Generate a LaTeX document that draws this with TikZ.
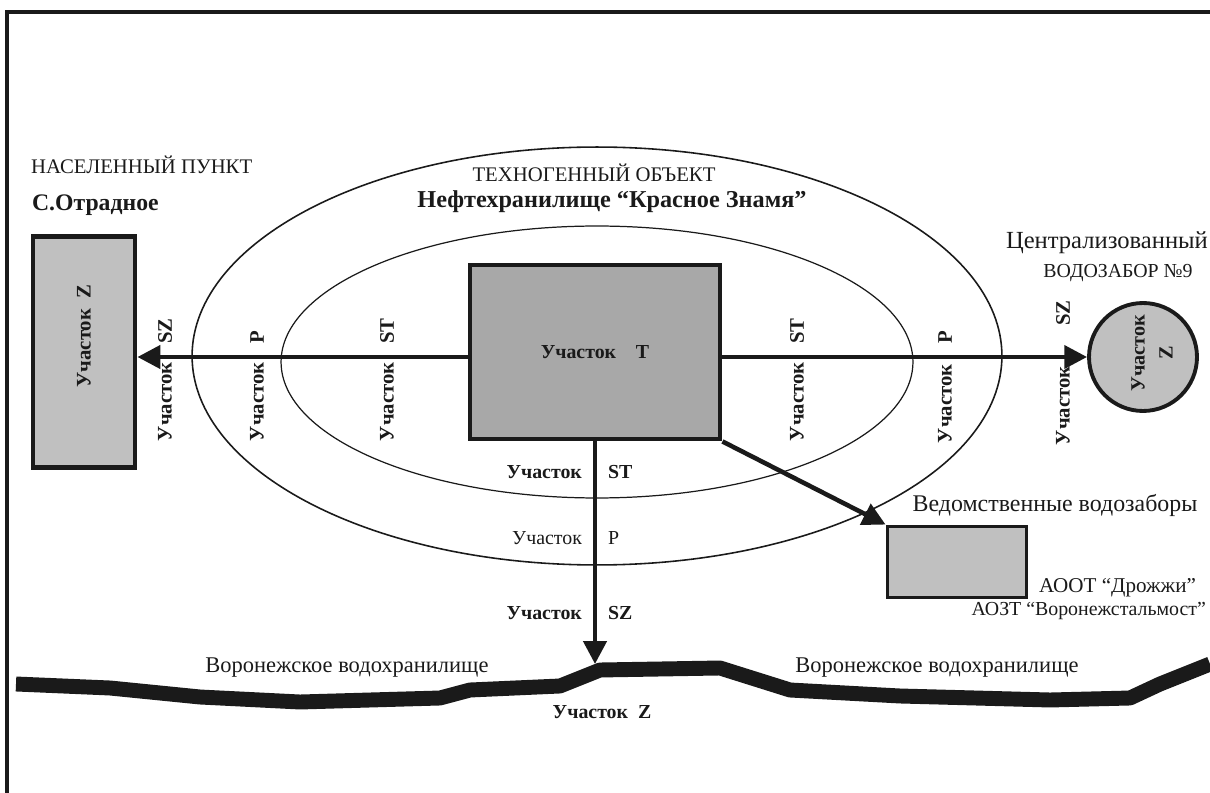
\documentclass[tikz,border=0pt]{standalone}
\usepackage{fontspec}
\setmainfont{Liberation Serif}
\usepackage{tikz}
\usetikzlibrary{arrows.meta,positioning,shapes.geometric}
\definecolor{ZoneInk}{HTML}{1A1A1A}
\definecolor{ZoneGray}{HTML}{C0C0C0}
\definecolor{ZoneDark}{HTML}{A8A8A8}
\tikzset{
  zonetext/.style={font=\fontsize{11.3}{13}\selectfont, text=ZoneInk, inner sep=1pt},
  zonebold/.style={zonetext, font=\fontsize{11.3}{13}\selectfont\bfseries},
  zonevert/.style={zonebold, font=\fontsize{11.8}{13}\selectfont\bfseries, rotate=90, inner sep=0pt},
  sitebox/.style={draw=ZoneInk, line width=2.8pt, fill=ZoneGray, inner sep=0pt},
  zonering/.style={draw=ZoneInk, ellipse, line width=0.9pt, inner sep=0pt},
  zonearrow/.style={-{Triangle[length=13pt,width=13pt]}, line width=2.6pt, draw=ZoneInk},
  riverline/.style={draw=ZoneInk, line width=8.5pt, line join=round}
}

\begin{document}
\begin{tikzpicture}[x=0.02cm, y=-0.02cm]
\useasboundingbox (0,0) rectangle (1210,793);
% frame
\draw[line width=2.3pt, ZoneInk] (7,793) -- (7,12) -- (1210,12);
% zones round the oil depot
\node[zonering, minimum width=16.2cm, minimum height=8.36cm] (outer) at (597,356) {};
\node[zonering, line width=0.7pt, minimum width=12.64cm, minimum height=5.44cm] (inner) at (597,362) {};
\node[zonetext, font=\fontsize{11.8}{13}\selectfont] (objcap) at (594,173) {ТЕХНОГЕННЫЙ ОБЪЕКТ};
\node[zonebold, font=\fontsize{13.8}{15}\selectfont\bfseries] (objname) at (612,202) {Нефтехранилище “Красное Знамя”};
\node[sitebox, fill=ZoneDark, minimum width=5cm, minimum height=3.48cm, zonebold] (T) at (595,352) {Участок\quad T};
% settlement
\node[zonetext, font=\fontsize{11.8}{13}\selectfont, anchor=west] (settlecap) at (29,165) {НАСЕЛЕННЫЙ ПУНКТ};
\node[zonebold, font=\fontsize{13.5}{15}\selectfont\bfseries, anchor=west] (settlename) at (30,205) {С.Отрадное};
\node[sitebox, minimum width=2.04cm, minimum height=4.62cm] (settle) at (84,352) {};
\node[zonevert] (settlelbl) at (84,336) {Участок\enspace Z};
% water intake
\node[zonetext, font=\fontsize{14}{16}\selectfont, anchor=east] (intakecap) at (1210,243) {Централизованный};
\node[zonetext] (intakenum) at (1118,273) {ВОДОЗАБОР №9};
\node[sitebox, circle, line width=2.2pt, minimum size=2.16cm] (intake) at (1143,357) {};
\node[zonetext, font=\fontsize{11.5}{16}\selectfont\bfseries, rotate=90, align=center] (intakelbl) at (1152,353) {Участок\\Z};
% departmental intakes
\node[zonetext, font=\fontsize{13.6}{15}\selectfont] (deptcap) at (1055,505) {Ведомственные водозаборы};
\node[sitebox, line width=2.2pt, minimum width=2.78cm, minimum height=1.42cm] (dept) at (957,562) {};
\node[zonetext, font=\fontsize{12}{14}\selectfont, anchor=east] (dept1) at (1198,588) {АООТ “Дрожжи”};
\node[zonetext, anchor=east] (dept2) at (1208,611) {АОЗТ “Воронежстальмост”};
% reservoir
\draw[riverline] (16,684) -- (110,688) -- (200,697) -- (300,702) -- (440,698) -- (470,690) -- (560,686) -- (600,670) -- (720,668) -- (790,690) -- (900,696) -- (1050,700) -- (1130,698) -- (1160,684) -- (1210,664);
\node[zonetext, font=\fontsize{12.8}{14}\selectfont] (lakeL) at (347,668) {Воронежское водохранилище};
\node[zonetext, font=\fontsize{12.8}{14}\selectfont] (lakeR) at (937,668) {Воронежское водохранилище};
\node[zonebold] (riverlbl) at (602,712) {Участок\enspace Z};
\coordinate (riverhit) at (T.south |- 0,664);
% connectors
\draw[zonearrow] (T.west |- intake) -- (settle.east |- intake);
\draw[zonearrow] (T.east |- intake) -- (intake);
\draw[zonearrow] (T.south) -- (riverhit);
\draw[zonearrow] (T.south east) -- (dept.north west);
% labels along the arrows
\node[zonevert, anchor=east] (lsz1) at (165,362) {Участок};
\node[zonevert, anchor=west] (lsz2) at (165,344) {SZ};
\node[zonevert, anchor=east] (lp1) at (257,362) {Участок};
\node[zonevert, anchor=west] (lp2) at (257,344) {P};
\node[zonevert, anchor=east] (lst1) at (387,362) {Участок};
\node[zonevert, anchor=west] (lst2) at (387,344) {ST};
\node[zonevert, anchor=east] (rst1) at (797,362) {Участок};
\node[zonevert, anchor=west] (rst2) at (797,344) {ST};
\node[zonevert, anchor=east] (rp1) at (945,364) {Участок};
\node[zonevert, anchor=west] (rp2) at (945,344) {P};
\node[zonevert, anchor=east] (rsz1) at (1063,366) {Участок};
\node[zonevert, anchor=west] (rsz2) at (1063,326) {SZ};
\node[zonebold, anchor=east] (bst1) at (584,472) {Участок};
\node[zonebold, anchor=west] (bst2) at (606,472) {ST};
\node[zonetext, anchor=east] (bp1) at (584,538) {Участок};
\node[zonetext, anchor=west] (bp2) at (606,538) {P};
\node[zonebold, anchor=east] (bsz1) at (584,613) {Участок};
\node[zonebold, anchor=west] (bsz2) at (606,613) {SZ};
\end{tikzpicture}
\end{document}
